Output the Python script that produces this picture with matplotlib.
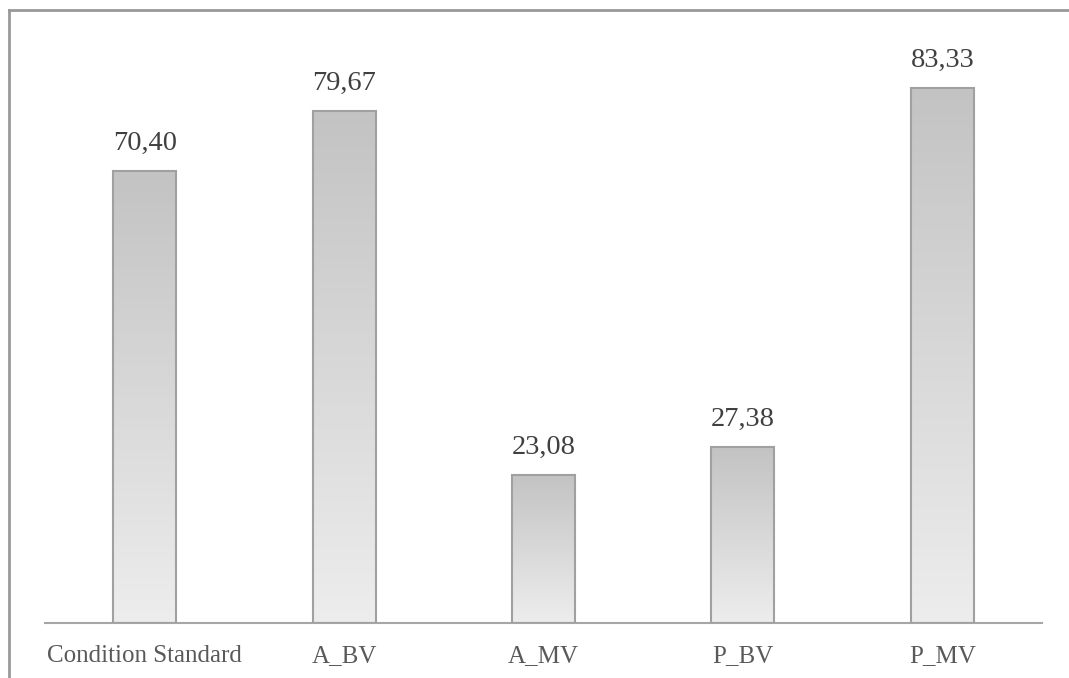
import numpy as np
import matplotlib
matplotlib.use("Agg")
import matplotlib.pyplot as plt
from matplotlib.colors import LinearSegmentedColormap
from matplotlib.lines import Line2D

# Donnees
categories = ["Condition Standard", "A_BV", "A_MV", "P_BV", "P_MV"]
valeurs = [70.40, 79.67, 23.08, 27.38, 83.33]
etiquettes = ["70,40", "79,67", "23,08", "27,38", "83,33"]

plt.rcParams["font.family"] = ["Liberation Serif", "DejaVu Serif"]

fig = plt.figure(figsize=(10.69, 6.78), dpi=100)
ax = fig.add_axes([45 / 1069, 1 - 623 / 678, 997 / 1069, 578 / 678])

x = np.arange(len(categories))
barres = ax.bar(x, valeurs, width=0.316, color="none",
                edgecolor="#a0a0a0", linewidth=1.5, zorder=3)

# Degrade gris dans chaque barre
cmap = LinearSegmentedColormap.from_list("gris", ["#ededed", "#c3c3c3"])
grad = np.linspace(0, 1, 256).reshape(-1, 1)
for b in barres:
    x0, y0 = b.get_x(), b.get_y()
    im = ax.imshow(grad, cmap=cmap, aspect="auto", origin="lower",
                   extent=[x0, x0 + b.get_width(), y0, y0 + b.get_height()],
                   zorder=2)
    im.set_clip_path(b)

# Etiquettes de valeurs
for xi, v, t in zip(x, valeurs, etiquettes):
    ax.annotate(t, (xi, v), xytext=(0, 11), textcoords="offset points",
                ha="center", va="bottom", fontsize=20.5, color="#404040")

ax.set_xlim(-0.5, len(categories) - 0.5)
ax.set_ylim(0, 90)
ax.set_xticks(x)
ax.set_xticklabels(categories, fontsize=18, color="#595959")
ax.tick_params(axis="x", length=0, pad=16)
ax.set_yticks([])
for s in ["top", "right", "left"]:
    ax.spines[s].set_visible(False)
ax.spines["bottom"].set_color("#a6a6a6")
ax.spines["bottom"].set_linewidth(1.5)
ax.set_zorder(1)

# Cadre du graphique
fig.add_artist(Line2D([9 / 1069, 1.0], [1 - 10 / 678, 1 - 10 / 678],
                      color="#999999", linewidth=2, transform=fig.transFigure))
fig.add_artist(Line2D([9 / 1069, 9 / 1069], [0, 1 - 10 / 678],
                      color="#999999", linewidth=2, transform=fig.transFigure))

fig.savefig("out.png", dpi=100)
